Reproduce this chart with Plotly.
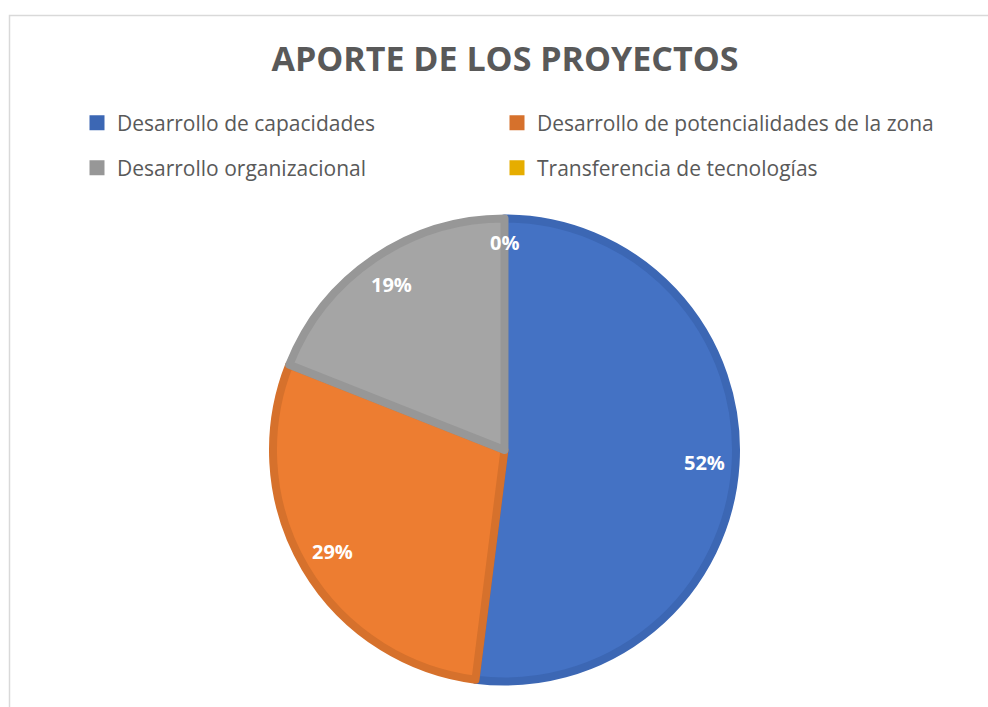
import math
import plotly.graph_objects as go

# ---- data ----
categories = [
    "Desarrollo de capacidades",
    "Desarrollo de potencialidades de la zona",
    "Desarrollo organizacional",
    "Transferencia de tecnologías",
]
values = [52, 29, 19, 0]
pct_labels = ["52%", "29%", "19%", "0%"]
fill_colors = ["#4472C4", "#ED7D31", "#A5A5A5", "#FFC000"]
edge_colors = ["#3C67B4", "#D6712C", "#979797", "#E6AD00"]
legend_ids = ["legend", "legend2", "legend3", "legend4"]
title_text = "APORTE DE LOS PROYECTOS"

W, H = 988, 707
CX, CY = 504.5, 450.0   # pixel centre (from top)
R_OUT = 235.5
LW = 8
R = R_OUT - LW / 2

fig = go.Figure()

fig.add_trace(go.Pie(
    labels=categories,
    values=values,
    sort=False,
    direction="clockwise",
    rotation=0,
    marker=dict(colors=fill_colors,
                line=dict(color=edge_colors,
                          width=[LW if v > 0 else 0 for v in values])),
    textinfo="none",
    hoverinfo="label+percent",
    showlegend=False,
    domain=dict(x=[(CX - R) / W, (CX + R) / W],
                y=[(H - CY - R) / H, (H - CY + R) / H]),
))

# legend entries (2 x 2 grid, one legend box per entry)
for name, col, lg in zip(categories, edge_colors, legend_ids):
    fig.add_trace(go.Scatter(
        x=[None], y=[None], mode="markers", name=name,
        marker=dict(symbol="square", size=15, color=col),
        legend=lg, showlegend=True,
    ))

# percentage labels placed from the data fractions
total = sum(values)
cum = 0.0
annotations = []
for v, txt in zip(values, pct_labels):
    frac_mid = (cum + v / 2) / total
    cum += v
    a = 2 * math.pi * frac_mid
    rl = 0.85 * R_OUT if v > 0 else 0.88 * R_OUT
    px = CX + rl * math.sin(a)
    py = CY - rl * math.cos(a)
    annotations.append(dict(
        x=px / W, y=1 - py / H, xref="paper", yref="paper",
        text=txt, showarrow=False,
        font=dict(family="Open Sans", size=20, color="white", weight="bold"),
        xanchor="center", yanchor="middle",
    ))

legend_common = dict(
    orientation="h", xanchor="left", yanchor="middle",
    font=dict(family="Open Sans", size=21, color="#595959"),
    bgcolor="rgba(0,0,0,0)", itemclick=False, itemdoubleclick=False,
)
col_x = [77 / W, 497 / W]
row_y = [1 - 123 / H, 1 - 168 / H]

fig.update_layout(
    width=W, height=H,
    margin=dict(l=0, r=0, t=0, b=0),
    paper_bgcolor="white", plot_bgcolor="white",
    title=dict(text=title_text, x=505 / W, xanchor="center",
               y=1 - 59 / H, yanchor="middle", yref="container",
               font=dict(family="Open Sans", size=34, color="#595959", weight="bold")),
    legend=dict(x=col_x[0], y=row_y[0], **legend_common),
    legend2=dict(x=col_x[1], y=row_y[0], **legend_common),
    legend3=dict(x=col_x[0], y=row_y[1], **legend_common),
    legend4=dict(x=col_x[1], y=row_y[1], **legend_common),
    xaxis=dict(visible=False), yaxis=dict(visible=False),
    annotations=annotations,
    shapes=[dict(type="rect", xref="paper", yref="paper",
                 x0=9.5 / W, x1=1.2, y0=-0.2, y1=1 - 15.5 / H,
                 line=dict(color="#D9D9D9", width=1.5), layer="below")],
)

fig.write_html("out.html")
